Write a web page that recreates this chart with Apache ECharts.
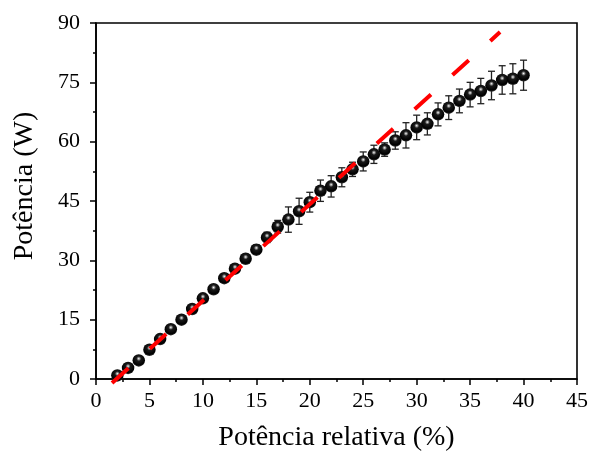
<!DOCTYPE html>
<html>
<head>
<meta charset="utf-8">
<style>
  html, body { margin: 0; padding: 0; background: #fff; }
  #chart { width: 590px; height: 452px; }
</style>
<script src="https://cdn.jsdelivr.net/npm/echarts@6/dist/echarts.min.js"></script>
</head>
<body>
<div id="chart"></div>
<script>
// Relative power setting (%) and measured power (W) with standard deviation
const relPower = [2, 3, 4, 5, 6, 7, 8, 9, 10, 11, 12, 13, 14, 15, 16, 17, 18, 19, 20, 21,
                  22, 23, 24, 25, 26, 27, 28, 29, 30, 31, 32, 33, 34, 35, 36, 37, 38, 39, 40];
const powerW = [0.9, 2.8, 4.7, 7.4, 10.1, 12.6, 15.0, 17.7, 20.4, 22.7, 25.5, 27.9, 30.4, 32.7,
                35.8, 38.5, 40.3, 42.4, 44.7, 47.6, 48.7, 51.0, 53.0, 55.0, 56.8, 58.0, 60.3,
                61.6, 63.6, 64.5, 66.9, 68.6, 70.3, 71.9, 72.8, 74.2, 75.6, 75.9, 76.8];
const powerErr = [0.4, 0.5, 0.5, 0.6, 0.6, 0.7, 0.7, 0.8, 0.8, 0.9, 1.0, 1.0, 1.1, 1.2,
                  1.3, 1.6, 3.2, 3.3, 2.5, 2.7, 2.7, 2.4, 1.8, 2.4, 2.3, 1.7, 2.2,
                  3.2, 3.1, 2.8, 2.9, 3.0, 3.0, 3.1, 3.2, 3.6, 3.6, 3.8, 3.8];
// Linear trend of the low-power region (end points)
const fitX = [1.5, 37.8];
const fitY = [-1.0, 87.7];

const xTicks = { min: 0, max: 45, interval: 5 };
const yTicks = { min: 0, max: 90, interval: 15 };

const FONT = '"Liberation Serif", "Times New Roman", serif';

const chart = echarts.init(document.getElementById('chart'), null, { renderer: 'canvas' });

const pointData = relPower.map((x, i) => [x, powerW[i]]);
const errData = relPower.map((x, i) => [x, powerW[i] - powerErr[i], powerW[i] + powerErr[i]]);
const fitData = fitX.map((x, i) => [x, fitY[i]]);

// glossy black sphere
const sphere = {
  type: 'radial', x: 0.5, y: 0.36, r: 0.6,
  colorStops: [
    { offset: 0, color: '#ffffff' },
    { offset: 0.1, color: '#b0b0b0' },
    { offset: 0.32, color: '#1a1a1a' },
    { offset: 0.85, color: '#000000' },
    { offset: 1, color: '#262626' }
  ]
};

const axisCommon = {
  axisLine: { show: true, onZero: false, lineStyle: { color: '#000', width: 1.6 } },
  axisTick: { show: true, inside: false, length: 6, lineStyle: { color: '#000', width: 1.5 } },
  minorTick: { show: true, splitNumber: 2, length: 3, lineStyle: { color: '#000', width: 1.5 } },
  splitLine: { show: false },
  minorSplitLine: { show: false }
};

chart.setOption({
  backgroundColor: '#fff',
  animation: false,
  grid: {
    left: 96, right: 13, top: 23, bottom: 73,
    outerBoundsMode: 'none',
    containLabel: false,
    show: true, borderColor: '#000', borderWidth: 1.6, backgroundColor: 'transparent'
  },
  xAxis: Object.assign({
    type: 'value',
    min: xTicks.min, max: xTicks.max, interval: xTicks.interval,
    name: 'Potência relativa (%)',
    nameLocation: 'middle', nameGap: 45,
    nameTextStyle: { fontFamily: FONT, fontSize: 28, color: '#000' },
    axisLabel: { fontFamily: FONT, fontSize: 22, color: '#000', margin: 11 }
  }, axisCommon),
  yAxis: Object.assign({
    type: 'value',
    min: yTicks.min, max: yTicks.max, interval: yTicks.interval,
    name: 'Potência (W)',
    nameLocation: 'middle', nameGap: 57,
    nameTextStyle: { fontFamily: FONT, fontSize: 28, color: '#000', padding: [0, 0, 0, 30] },
    axisLabel: { fontFamily: FONT, fontSize: 22, color: '#000', margin: 16 }
  }, axisCommon),
  series: [
    {
      // error bars with caps
      type: 'custom',
      z: 2,
      data: errData,
      renderItem: function (params, api) {
        const x = api.value(0);
        const lo = api.coord([x, api.value(1)]);
        const hi = api.coord([x, api.value(2)]);
        const cap = 3.5;
        const style = { stroke: '#222', lineWidth: 1.3 };
        return {
          type: 'group',
          children: [
            { type: 'line', shape: { x1: lo[0], y1: lo[1], x2: hi[0], y2: hi[1] }, style: style },
            { type: 'line', shape: { x1: lo[0] - cap, y1: lo[1], x2: lo[0] + cap, y2: lo[1] }, style: style },
            { type: 'line', shape: { x1: hi[0] - cap, y1: hi[1], x2: hi[0] + cap, y2: hi[1] }, style: style }
          ]
        };
      }
    },
    {
      type: 'scatter',
      z: 3,
      data: pointData,
      symbol: 'circle',
      symbolSize: 12.5,
      itemStyle: { color: sphere, borderWidth: 0, opacity: 1 }
    },
    {
      type: 'line',
      z: 4,
      data: fitData,
      showSymbol: false,
      clip: false,
      lineStyle: { color: '#ff0000', width: 4, type: [22, 29], cap: 'butt' }
    }
  ]
});
</script>
</body>
</html>
